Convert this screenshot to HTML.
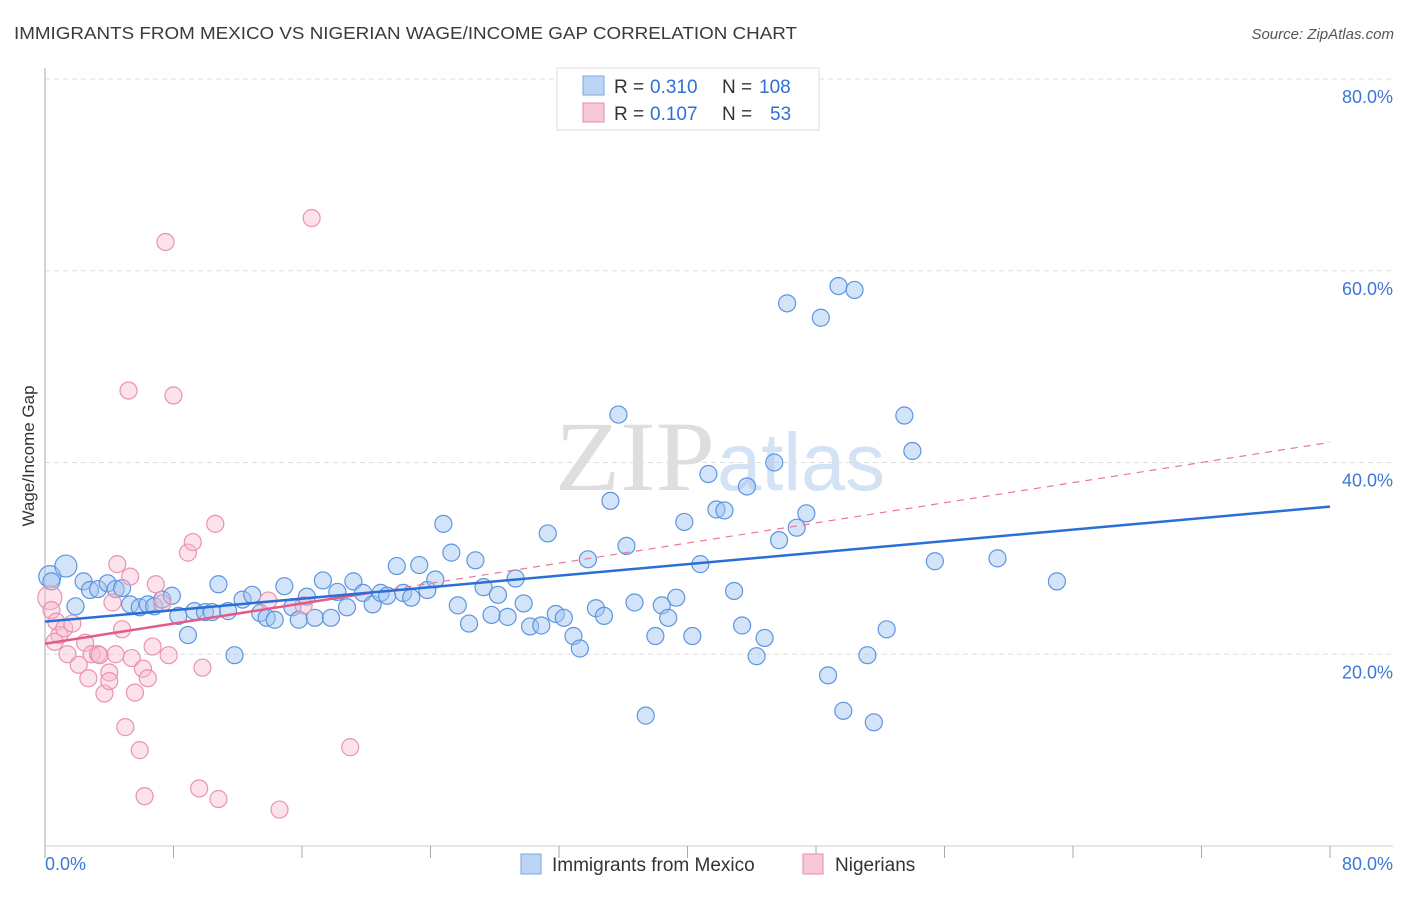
<!DOCTYPE html>
<html><head><meta charset="utf-8"><style>
body{margin:0;background:#fff;font-family:"Liberation Sans",sans-serif;}
</style></head><body>
<svg id="chart" width="1406" height="892" xmlns="http://www.w3.org/2000/svg" font-family="Liberation Sans, sans-serif">
<text x="14" y="39" font-size="17.5" fill="#3a3a3a" textLength="783" lengthAdjust="spacingAndGlyphs">IMMIGRANTS FROM MEXICO VS NIGERIAN WAGE/INCOME GAP CORRELATION CHART</text>
<text x="1394" y="39" font-size="15" fill="#555" text-anchor="end" font-style="italic">Source: ZipAtlas.com</text>
<text x="555" y="490" font-size="100" fill="#dedede" style="font-family:'Liberation Serif',serif" textLength="160" lengthAdjust="spacingAndGlyphs">ZIP</text>
<text x="717" y="490" font-size="82" fill="#d3e2f4" style="font-family:'Liberation Sans',sans-serif" textLength="168" lengthAdjust="spacingAndGlyphs">atlas</text>
<g id="grid"></g>
<g id="axes"></g>
<g id="marks"></g>
<text transform="translate(34,456) rotate(-90)" font-size="17" fill="#333" text-anchor="middle">Wage/Income Gap</text>
<g>
<rect x="557" y="68" width="262" height="62" fill="#fff" stroke="#ddd"/>
<rect x="583" y="76" width="21" height="19" fill="#bdd5f5" stroke="#7aa6e0"/>
<text x="614" y="93" font-size="19" fill="#333">R =</text>
<text x="650" y="93" font-size="19" fill="#2f6fd6">0.310</text>
<text x="722" y="93" font-size="19" fill="#333">N =</text>
<text x="759" y="93" font-size="19" fill="#2f6fd6">108</text>
<rect x="583" y="103" width="21" height="19" fill="#f9c8d6" stroke="#e98aa6"/>
<text x="614" y="120" font-size="19" fill="#333">R =</text>
<text x="650" y="120" font-size="19" fill="#2f6fd6">0.107</text>
<text x="722" y="120" font-size="19" fill="#333">N =</text>
<text x="770" y="120" font-size="19" fill="#2f6fd6">53</text>
</g>
<g>
<rect x="521" y="854" width="20" height="20" fill="#bdd5f5" stroke="#7aa6e0"/>
<text x="552" y="871" font-size="19" fill="#333">Immigrants from Mexico</text>
<rect x="803" y="854" width="20" height="20" fill="#f9c8d6" stroke="#e98aa6"/>
<text x="835" y="871" font-size="19" fill="#333">Nigerians</text>
</g>
</svg>
<script>
const yTicks=[20,40,60,80];
const xTickLabels=["0.0%","80.0%"];
const blueX=[0.3,1.3,0.4,1.9,2.4,2.8,3.3,3.9,4.4,4.8,5.3,5.9,6.4,6.8,7.3,7.9,8.3,8.9,9.3,9.96,10.4,10.8,11.4,11.8,12.3,12.9,13.4,13.8,14.3,14.9,15.4,15.8,16.3,16.8,17.3,17.8,18.2,18.8,19.2,19.8,20.4,20.9,21.3,21.9,22.3,22.8,23.3,23.8,24.3,24.8,25.3,25.7,26.4,26.8,27.3,27.8,28.2,28.8,29.3,29.8,30.2,30.9,31.3,31.8,32.3,32.9,33.3,33.8,34.3,34.8,35.2,35.7,36.2,36.7,37.4,38.0,38.4,38.8,39.3,39.8,40.3,40.8,41.3,41.8,42.3,42.9,43.4,43.7,44.3,44.8,45.4,45.7,46.2,46.8,47.4,48.3,48.75,49.4,49.7,50.4,51.2,51.6,52.4,53.5,54.0,55.4,59.3,63.0];
const blueY=[28.1,29.2,27.6,25.0,27.6,26.7,26.8,27.4,26.8,26.9,25.2,24.9,25.2,25.0,25.7,26.1,24.0,22.0,24.5,24.4,24.4,27.3,24.5,19.9,25.7,26.2,24.3,23.8,23.6,27.1,24.9,23.6,26.0,23.8,27.7,23.8,26.5,24.9,27.6,26.4,25.2,26.4,26.1,29.2,26.4,25.9,29.3,26.7,27.8,33.6,30.6,25.1,23.2,29.8,27.0,24.1,26.2,23.9,27.9,25.3,22.9,23.0,32.6,24.2,23.8,21.9,20.6,29.9,24.8,24.0,36.0,45.0,31.3,25.4,13.6,21.9,25.1,23.8,25.9,33.8,21.9,29.4,38.8,35.1,35.0,26.6,23.0,37.5,19.8,21.7,40.0,31.9,56.6,33.2,34.7,55.1,17.8,58.4,14.1,58.0,19.9,12.9,22.6,44.9,41.2,29.7,30.0,27.6];
const pinkX=[0.3,0.4,0.7,0.9,0.6,1.2,1.4,1.7,2.1,2.5,2.7,2.9,3.3,3.4,3.7,4.0,4.0,4.2,4.4,4.5,4.8,5.0,5.2,5.3,5.4,5.6,5.9,6.1,6.2,6.4,6.7,6.9,7.3,7.5,7.7,8.0,8.9,9.2,9.6,9.8,10.6,10.8,13.9,14.6,16.1,16.6,19.0];
const pinkY=[25.9,24.6,23.4,22.0,21.3,22.7,20.0,23.2,18.9,21.2,17.5,20.0,20.0,19.9,15.9,18.1,17.2,25.4,20.0,29.4,22.6,12.4,47.5,28.1,19.6,16.0,10.0,18.5,5.2,17.5,20.8,27.3,25.3,63.0,19.9,47.0,30.6,31.7,6.0,18.6,33.6,4.9,25.6,3.8,25.1,65.5,10.3];
const blueFit=[23.4,35.4];
const pinkFit=[21.1,42.1];
const X=v=>45+v/80*1285, Y=v=>846-v/80*767;
const NS="http://www.w3.org/2000/svg";
function mk(p,tag,a){const e=document.createElementNS(NS,tag);for(const k in a)e.setAttribute(k,a[k]);p.appendChild(e);return e;}
const grid=document.getElementById('grid'),axes=document.getElementById('axes'),marks=document.getElementById('marks');
yTicks.forEach(t=>{
 const l=mk(grid,'line',{x1:45,x2:1393,y1:Y(t),y2:Y(t),stroke:'#ddd','stroke-dasharray':'5,4'});
 
 
 const tx=mk(grid,'text',{x:1393,y:Y(t)+24,'font-size':18,fill:'#3b78d8','text-anchor':'end'});
 tx.textContent=t.toFixed(1)+'%';
 
 
});
let a=mk(axes,'line',{x1:45,x2:45,y1:68,y2:846,stroke:'#aaa'});


a=mk(axes,'line',{x1:45,x2:1393,y1:846,y2:846,stroke:'#ccc'});


for(let i=0;i<=10;i++){const t=mk(axes,'line',{x1:X(i*8),x2:X(i*8),y1:846,y2:858,stroke:'#aaa'});
 
 }
[[0,'start',45],[80,'end',1393]].forEach((d,i)=>{const t=mk(axes,'text',{x:d[2],y:870,'font-size':18,fill:'#3b78d8','text-anchor':d[1]});t.textContent=xTickLabels[i];
 
 });
blueX.forEach((x,i)=>{const big=i<2;const c=mk(marks,'circle',{cx:X(x),cy:Y(blueY[i]),r:big?11:8.5,fill:'rgba(160,195,240,0.45)',stroke:'#5d95e0','stroke-width':1.2});
 
 });
pinkX.forEach((x,i)=>{const c=mk(marks,'circle',{cx:X(x),cy:Y(pinkY[i]),r:i==0?12:8.5,fill:'rgba(248,185,205,0.4)',stroke:'#ea92ae','stroke-width':1.2});
 
 });
const pEnd=20.2;
let f=mk(marks,'line',{x1:X(0),y1:Y(pinkFit[0]),x2:X(80),y2:Y(pinkFit[1]),stroke:'#e8789a','stroke-width':1.2,'stroke-dasharray':'7,6'});


f=mk(marks,'line',{x1:X(0),y1:Y(pinkFit[0]),x2:X(pEnd),y2:Y(pinkFit[0]+(pinkFit[1]-pinkFit[0])*pEnd/80),stroke:'#e35c88','stroke-width':2.5});


f=mk(marks,'line',{x1:X(0),y1:Y(blueFit[0]),x2:X(80),y2:Y(blueFit[1]),stroke:'#2a6fd6','stroke-width':2.5});


</script>
</body></html>
